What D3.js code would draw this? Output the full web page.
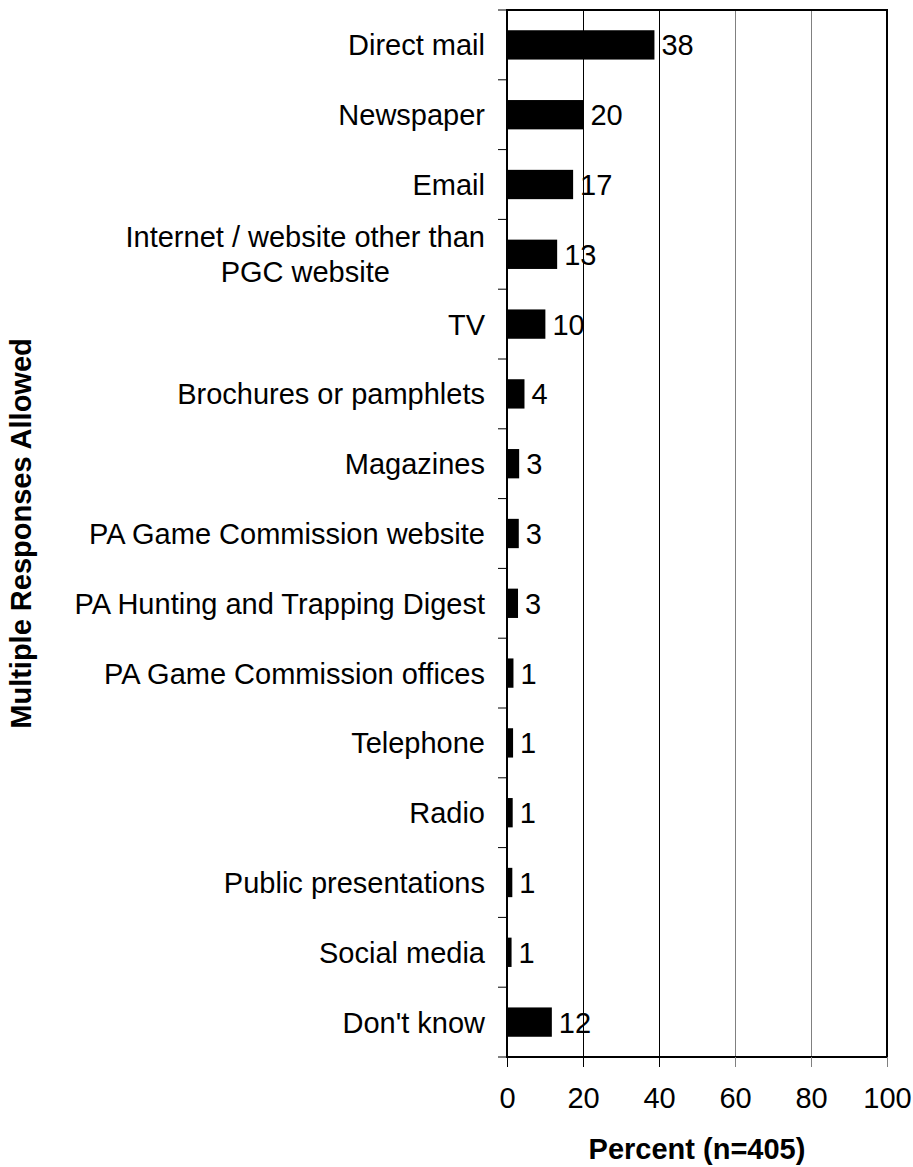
<!DOCTYPE html>
<html>
<head>
<meta charset="utf-8">
<script src="https://cdn.jsdelivr.net/npm/d3@7"></script>
<style>
  html, body { margin: 0; padding: 0; background: #fff; }
  svg { display: block; font-family: "Liberation Sans", Arial, sans-serif; }
</style>
</head>
<body>
<svg id="chart" width="913" height="1167"></svg>
<script>
const categories = [
  "Direct mail",
  "Newspaper",
  "Email",
  "Internet / website other than\nPGC website",
  "TV",
  "Brochures or pamphlets",
  "Magazines",
  "PA Game Commission website",
  "PA Hunting and Trapping Digest",
  "PA Game Commission offices",
  "Telephone",
  "Radio",
  "Public presentations",
  "Social media",
  "Don't know"
];
const percents = [38.8, 20.1, 17.4, 13.2, 10.1, 4.6, 3.2, 3.1, 2.9, 1.7, 1.6, 1.5, 1.4, 1.2, 11.8];
const valueLabels = ["38", "20", "17", "13", "10", "4", "3", "3", "3", "1", "1", "1", "1", "1", "12"];
const xTicks = [0, 20, 40, 60, 80, 100];
const gridValues = [20, 40, 60, 80];
const gridColors = ["#000", "#000", "#808080", "#808080"];
const xTitle = "Percent (n=405)";
const yTitle = "Multiple Responses Allowed";

(function () {
const svg = d3.select("#chart");
const pLeft = 507, pRight = 887, pTop = 10, pBottom = 1057;
const FS = 29;

const x = d3.scaleLinear().domain([0, 100]).range([pLeft, pRight]);
const y = d3.scaleBand().domain(categories).range([pTop, pBottom])
  .paddingInner(0.58).paddingOuter(0.29);

// gridlines
svg.append("g").selectAll("line").data(gridValues).join("line")
  .attr("x1", d => Math.round(x(d)) + 0.5).attr("x2", d => Math.round(x(d)) + 0.5)
  .attr("y1", pTop).attr("y2", pBottom)
  .attr("stroke", (d, i) => gridColors[i]).attr("stroke-width", 1);

// bars
svg.append("g").selectAll("rect").data(categories).join("rect")
  .attr("x", x(0))
  .attr("y", d => y(d))
  .attr("width", (d, i) => x(percents[i]) - x(0))
  .attr("height", y.bandwidth())
  .attr("fill", "#000");

// frame
svg.append("rect")
  .attr("x", pLeft).attr("y", pTop)
  .attr("width", pRight - pLeft).attr("height", pBottom - pTop)
  .attr("fill", "none").attr("stroke", "#000").attr("stroke-width", 2);

// left ticks at band boundaries
const boundaries = d3.range(categories.length + 1).map(i => pTop + i * y.step());
svg.append("g").selectAll("line").data(boundaries).join("line")
  .attr("x1", pLeft - 9).attr("x2", pLeft)
  .attr("y1", d => d).attr("y2", d => d)
  .attr("stroke", "#000").attr("stroke-width", 1);

// bottom axis
const xAxis = d3.axisBottom(x).tickValues(xTicks).tickSize(10).tickPadding(20).tickFormat(d3.format("d"));
const gx = svg.append("g").attr("transform", `translate(0,${pBottom})`).call(xAxis);
gx.attr("font-size", FS).attr("font-family", "'Liberation Sans', Arial, sans-serif");
gx.select(".domain").remove();
gx.selectAll(".tick line").attr("stroke", (d) => d >= 60 ? "#808080" : "#000");
gx.selectAll(".tick text").attr("fill", "#000");

// category labels
const labelX = pLeft - 22;
const catG = svg.append("g");
categories.forEach((c, i) => {
  const lines = c.split("\n");
  const cy = y(c) + y.bandwidth() / 2;
  if (lines.length === 1) {
    catG.append("text")
      .attr("x", labelX).attr("y", cy).attr("dy", "0.36em")
      .attr("text-anchor", "end").attr("font-size", FS).attr("fill", "#000")
      .text(c);
  } else {
    const lh = 35;
    const t = catG.append("text").attr("font-size", FS).attr("fill", "#000")
      .attr("text-anchor", "middle");
    const first = t.append("tspan").text(lines[0]);
    const w = first.node().getComputedTextLength();
    const cx = labelX - w / 2;
    const startY = cy - (lines.length - 1) * lh / 2;
    t.selectAll("tspan").remove();
    lines.forEach((ln, j) => {
      t.append("tspan").attr("x", cx).attr("y", startY + j * lh).attr("dy", "0.36em").text(ln);
    });
  }
});

// value labels
svg.append("g").selectAll("text").data(categories).join("text")
  .attr("x", (d, i) => x(percents[i]) + 7)
  .attr("y", d => y(d) + y.bandwidth() / 2)
  .attr("dy", "0.36em")
  .attr("font-size", FS).attr("fill", "#000")
  .text((d, i) => valueLabels[i]);

// axis titles
svg.append("text")
  .attr("x", (pLeft + pRight) / 2).attr("y", 1149).attr("dy", "0.36em")
  .attr("text-anchor", "middle").attr("font-size", FS).attr("font-weight", "bold")
  .text(xTitle);

svg.append("text")
  .attr("transform", `translate(21,${(pTop + pBottom) / 2}) rotate(-90)`)
  .attr("dy", "0.36em")
  .attr("text-anchor", "middle").attr("font-size", FS).attr("font-weight", "bold")
  .text(yTitle);
})();
</script>
</body>
</html>
